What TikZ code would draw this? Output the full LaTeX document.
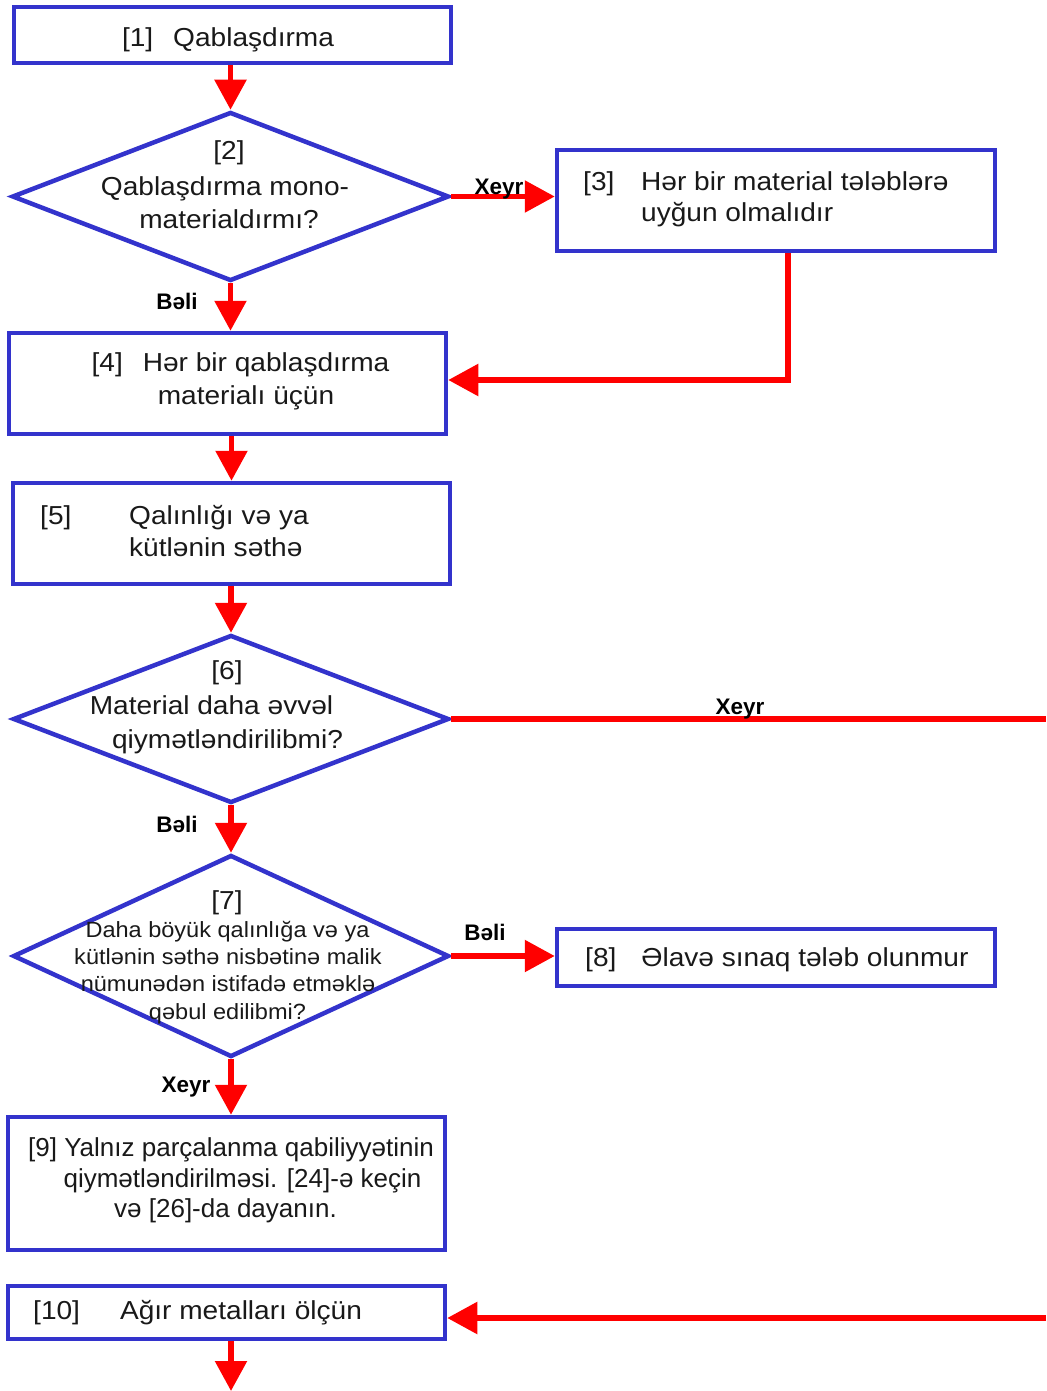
\documentclass[tikz,border=0pt]{standalone}
\usepackage{fontspec}
\setmainfont{Liberation Sans}
\newfontfamily\widefont[FakeStretch=1.08]{Liberation Sans}
\newfontfamily\diafont[FakeStretch=1.07]{Liberation Sans}
\usetikzlibrary{shapes.geometric,arrows.meta}
\definecolor{bblue}{RGB}{51,51,204}
\definecolor{rred}{RGB}{255,0,0}
\begin{document}
\begin{tikzpicture}[x=1pt,y=-1pt,
  box/.style={draw=bblue, line width=4.5pt, rectangle, inner sep=0pt, fill=white},
  dia/.style={draw=bblue, line width=4.5pt, diamond, inner sep=0pt},
  flow/.style={draw=rred, line width=5.5pt, -{Triangle[length=30pt,width=31pt]}},
  plainline/.style={draw=rred, line width=5.5pt},
  mt/.style={font=\widefont\fontsize{26}{31}\selectfont, inner sep=0pt, text=black!90},
  st/.style={font=\diafont\fontsize{22}{27}\selectfont, inner sep=0pt, text=black!90},
  nt/.style={font=\fontsize{26}{30}\selectfont, inner sep=0pt, text=black!90},
  lab/.style={font=\bfseries\fontsize{22.5}{27}\selectfont, inner sep=0pt, text=black}]
\useasboundingbox[fill=white] (0,0) rectangle (1046,1391);

% shapes
\node[box, minimum width=437pt, minimum height=56pt] (b1) at (232.5,35) {};
\node[dia, minimum width=437pt, minimum height=169pt] (d2) at (230.5,196.5) {};
\node[box, minimum width=438pt, minimum height=101pt] (b3) at (776,200.5) {};
\node[box, minimum width=437pt, minimum height=101pt] (b4) at (227.5,383.5) {};
\node[box, minimum width=437pt, minimum height=101pt] (b5) at (231.5,533.5) {};
\node[dia, minimum width=436pt, minimum height=168pt] (d6) at (231,719) {};
\node[dia, minimum width=436pt, minimum height=202pt] (d7) at (231,956) {};
\node[box, minimum width=438pt, minimum height=57pt] (b8) at (776,957.5) {};
\node[box, minimum width=437pt, minimum height=133pt] (b9) at (226.5,1183.5) {};
\node[box, minimum width=437pt, minimum height=53pt] (b10) at (226.5,1312.5) {};

\coordinate (e6) at (1046,719);
\coordinate (e10) at (1046,1318);
\coordinate (e11) at (231,1391);

% connectors
\draw[flow] (d2.north |- b1.south) -- (d2.north);
\draw[flow] (d2.east) -- (d2.east -| b3.west);
\draw[flow] ([xshift=12pt]b3.south) |- ([yshift=3.5pt]b4.east);
\draw[flow] (d2.south) -- (d2.south |- b4.north);
\draw[flow] (b5.north |- b4.south) -- (b5.north);
\draw[flow] (d6.north |- b5.south) -- (d6.north);
\draw[plainline] (d6.east) -- (e6);
\draw[flow] (d6.south) -- (d7.north);
\draw[flow] (d7.east) -- (d7.east -| b8.west);
\draw[flow] (d7.south) -- (d7.south |- b9.north);
\draw[flow] (e10) -- (e10 -| b10.east);
\draw[flow] (e11 |- b10.south) -- (e11);

% texts
\node[mt, anchor=base] (t1) at (228,47) {[1]\hspace{20pt}Qablaşdırma};

\node[mt, anchor=base] (t2a) at (229,160) {[2]};
\node[mt, anchor=base] (t2b) at (225,196) {Qablaşdırma mono-};
\node[mt, anchor=base] (t2c) at (229,228) {materialdırmı?};

\node[mt, anchor=base west] (t3a) at (583,190) {[3]};
\node[mt, anchor=base west] (t3b) at (641,190) {Hər bir material tələblərə};
\node[mt, anchor=base west] (t3c) at (641,221) {uyğun olmalıdır};

\node[mt, anchor=base] (t4a) at (240.5,371) {[4]\hspace{20pt}Hər bir qablaşdırma};
\node[mt, anchor=base] (t4b) at (246,404) {materialı üçün};

\node[mt, anchor=base west] (t5a) at (40,524) {[5]};
\node[mt, anchor=base west] (t5b) at (129,524) {Qalınlığı və ya};
\node[mt, anchor=base west] (t5c) at (129,556) {kütlənin səthə};

\node[mt, anchor=base] (t6a) at (227,679) {[6]};
\node[mt, anchor=base] (t6b) at (211.5,714) {Material daha əvvəl};
\node[mt, anchor=base] (t6c) at (227.5,748) {qiymətləndirilibmi?};

\node[mt, anchor=base] (t7a) at (227,909) {[7]};
\node[st, anchor=base] (t7b) at (227.5,937) {Daha böyük qalınlığa və ya};
\node[st, anchor=base] (t7c) at (228,964) {kütlənin səthə nisbətinə malik};
\node[st, anchor=base] (t7d) at (228,991) {nümunədən istifadə etməklə};
\node[st, anchor=base] (t7e) at (227.5,1019) {qəbul edilibmi?};

\node[mt, anchor=base west] (t8) at (585,966) {[8]\hspace{25pt}Əlavə sınaq tələb olunmur};

\node[nt, anchor=base] (t9a) at (231,1156) {[9] Yalnız parçalanma qabiliyyətinin};
\node[nt, anchor=base] (t9b) at (242.5,1187) {qiymətləndirilməsi. [24]-ə keçin};
\node[nt, anchor=base] (t9c) at (225.5,1217) {və [26]-da dayanın.};

\node[mt, anchor=base west] (t10) at (33,1319) {[10]\hspace{40pt}Ağır metalları ölçün};

% labels
\node[lab, anchor=base] (l23) at (499,194) {Xeyr};
\node[lab, anchor=base] (l24) at (177,309) {Bəli};
\node[lab, anchor=base] (l6x) at (740,714) {Xeyr};
\node[lab, anchor=base] (l67) at (177,832) {Bəli};
\node[lab, anchor=base] (l78) at (485,940) {Bəli};
\node[lab, anchor=base] (l79) at (186,1092) {Xeyr};
\end{tikzpicture}
\end{document}
